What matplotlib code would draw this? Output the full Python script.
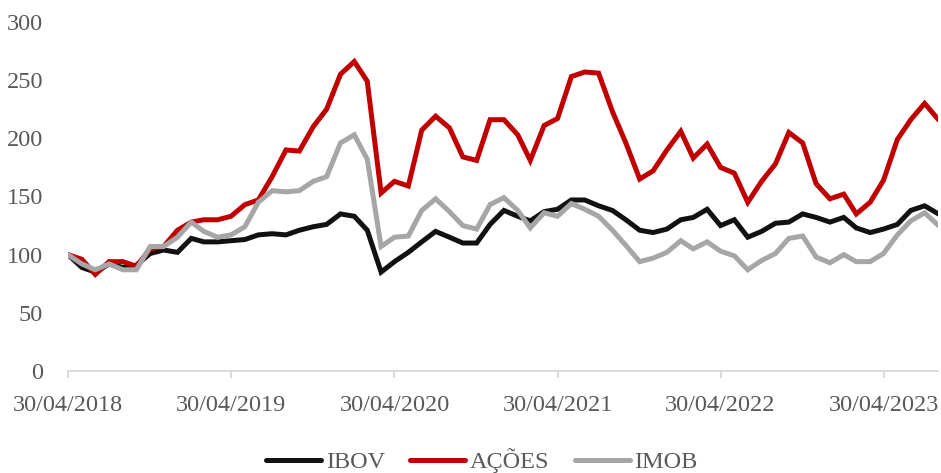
import pandas as pd
import matplotlib
matplotlib.use("Agg")
import matplotlib.pyplot as plt

# monthly index values (base 100 = 30/04/2018)
dates = pd.date_range("2018-04-30", periods=65, freq="ME")

ibov = [100, 89, 85, 92, 89, 91, 101, 104, 102, 114, 111, 111, 112, 113, 117, 118,
        117, 121, 124, 126, 135, 133, 121, 85, 94, 102, 111, 120, 115, 110, 110, 126,
        138, 133, 129, 137, 139, 147, 147, 142, 138, 130, 121, 119, 122, 130, 132, 139,
        125, 130, 115, 120, 127, 128, 135, 132, 128, 132, 123, 119, 122, 126, 138, 142,
        135]

acoes = [100, 96, 83, 94, 94, 90, 105, 107, 121, 128, 130, 130, 133, 143, 147, 167,
         190, 189, 210, 225, 255, 266, 249, 153, 163, 159, 207, 219, 209, 184, 181, 216,
         216, 203, 181, 211, 217, 253, 257, 256, 223, 196, 165, 172, 190, 206, 183, 195,
         175, 170, 145, 163, 178, 205, 196, 161, 148, 152, 135, 145, 164, 199, 216, 230,
         216]

imob = [100, 92, 87, 92, 87, 87, 107, 107, 115, 128, 120, 115, 117, 124, 145, 155,
        154, 155, 163, 167, 196, 203, 182, 107, 115, 116, 138, 148, 137, 125, 122, 143,
        149, 138, 123, 136, 133, 144, 139, 133, 121, 108, 94, 97, 102, 112, 105, 111,
        103, 99, 87, 95, 101, 114, 116, 98, 93, 100, 94, 94, 101, 117, 129, 136,
        125]

series_names = ["IBOV", "AÇÕES", "IMOB"]
series_colors = ["#111111", "#c00000", "#a6a6a6"]

tick_dates = pd.to_datetime(["2018-04-30", "2019-04-30", "2020-04-30",
                             "2021-04-30", "2022-04-30", "2023-04-30"])
tick_labels = [d.strftime("%d/%m/%Y") for d in tick_dates]

plt.rcParams["font.family"] = ["Liberation Serif", "DejaVu Serif"]
FS = 17.5
GREY_TXT = "#595959"

fig = plt.figure(figsize=(9.41, 4.73), dpi=100)
ax = fig.add_axes([0.0723, 0.2156, 0.925, 0.738])

for vals, name, col in zip([ibov, acoes, imob], series_names, series_colors):
    ax.plot(dates, vals, color=col, linewidth=3.6, label=name,
            solid_joinstyle="miter", solid_capstyle="round")

ax.set_xlim(dates[0], dates[-1])
ax.set_ylim(0, 300)
ax.set_yticks(range(0, 301, 50))
ax.set_xticks(tick_dates)
ax.set_xticklabels(tick_labels)

for side in ["left", "right", "top"]:
    ax.spines[side].set_visible(False)
ax.spines["bottom"].set_color("#d9d9d9")
ax.spines["bottom"].set_linewidth(1.3)

ax.tick_params(axis="y", length=0, pad=18, labelsize=FS, labelcolor=GREY_TXT)
ax.tick_params(axis="x", length=5, width=1.3, color="#d9d9d9", pad=12,
               labelsize=FS, labelcolor=GREY_TXT)

handles, labels = ax.get_legend_handles_labels()
fig.legend(handles, labels, loc="center", bbox_to_anchor=(482 / 941, 12 / 473),
           ncol=3, frameon=False, fontsize=FS, handlelength=2.25,
           handletextpad=0.2, columnspacing=1.05, labelcolor=GREY_TXT,
           borderpad=0, borderaxespad=0)

fig.savefig("out.png", dpi=100)
